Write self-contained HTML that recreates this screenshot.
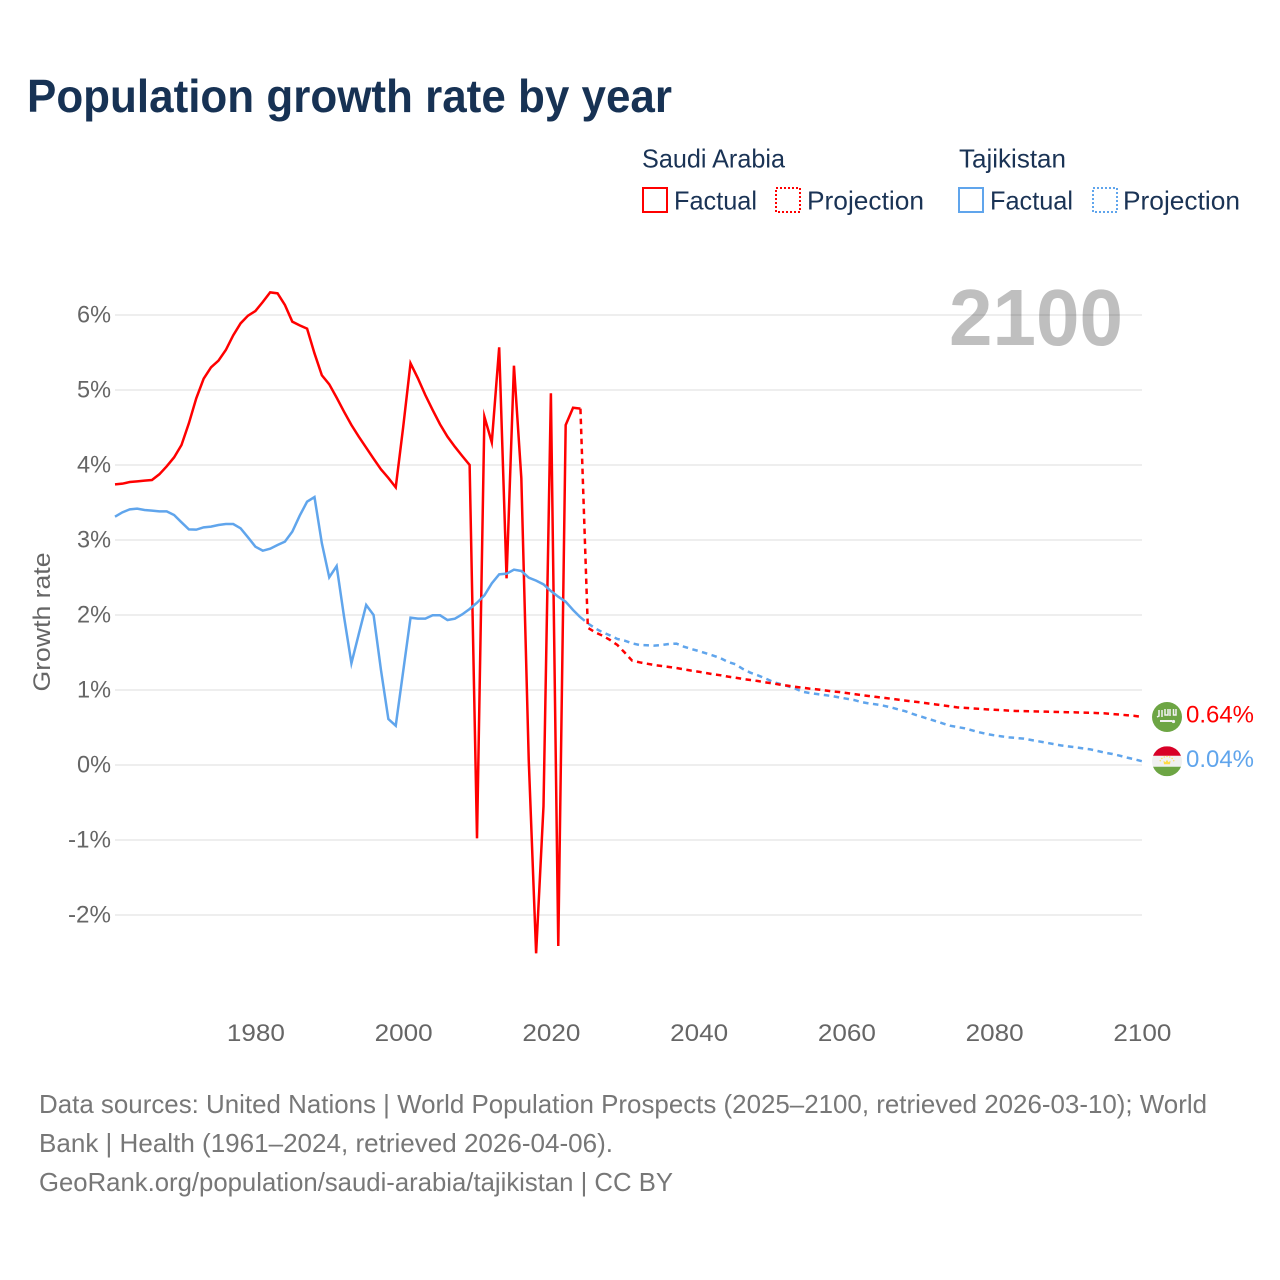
<!DOCTYPE html>
<html lang="en">
<head>
<meta charset="utf-8">
<title>Population growth rate by year</title>
<style>
html,body{margin:0;padding:0;background:#fff;}
svg{display:block;font-family:"Liberation Sans",sans-serif;}
</style>
</head>
<body>
<svg id="chart" xmlns="http://www.w3.org/2000/svg" width="1280" height="1280" viewBox="0 0 1280 1280">
  <rect x="0" y="0" width="1280" height="1280" fill="#fff"/>
  <text x="27" y="112" font-size="46" font-weight="700" fill="#173254" textLength="645" lengthAdjust="spacingAndGlyphs">Population growth rate by year</text>

  <g font-size="26" fill="#1a3355">
    <text x="642" y="167.5" textLength="143" lengthAdjust="spacingAndGlyphs">Saudi Arabia</text>
    <text x="959" y="167.5" textLength="107" lengthAdjust="spacingAndGlyphs">Tajikistan</text>
    <rect x="643" y="188" width="24" height="24" fill="none" stroke="#ff0000" stroke-width="2"/>
    <text x="674" y="209.5" textLength="83" lengthAdjust="spacingAndGlyphs">Factual</text>
    <rect x="776" y="188" width="24" height="24" fill="none" stroke="#ff0000" stroke-width="2" stroke-dasharray="2 2"/>
    <text x="807" y="209.5" textLength="117" lengthAdjust="spacingAndGlyphs">Projection</text>
    <rect x="959" y="188" width="24" height="24" fill="none" stroke="#60a5ec" stroke-width="2"/>
    <text x="990" y="209.5" textLength="83" lengthAdjust="spacingAndGlyphs">Factual</text>
    <rect x="1093" y="188" width="24" height="24" fill="none" stroke="#60a5ec" stroke-width="2" stroke-dasharray="2 2"/>
    <text x="1123" y="209.5" textLength="117" lengthAdjust="spacingAndGlyphs">Projection</text>
  </g>

  <g id="grid"></g>
  <text x="949" y="345" font-size="80" font-weight="700" fill="#000000" fill-opacity="0.25" textLength="174" lengthAdjust="spacingAndGlyphs">2100</text>
  <g id="yTicks" font-size="24" fill="#666666"></g>
  <g id="xTicks" font-size="24" fill="#666666"></g>
  <text transform="translate(50,622) rotate(-90)" text-anchor="middle" font-size="24" fill="#666666" textLength="139" lengthAdjust="spacingAndGlyphs">Growth rate</text>
  <g id="series"></g>
  <g id="ends"></g>

  <g font-size="26" fill="#777777">
    <text x="39" y="1113" textLength="1168" lengthAdjust="spacingAndGlyphs">Data sources: United Nations | World Population Prospects (2025–2100, retrieved 2026-03-10); World</text>
    <text x="39" y="1152" textLength="574" lengthAdjust="spacingAndGlyphs">Bank | Health (1961–2024, retrieved 2026-04-06).</text>
    <text x="39" y="1191" textLength="634" lengthAdjust="spacingAndGlyphs">GeoRank.org/population/saudi-arabia/tajikistan | CC BY</text>
  </g>
</svg>
<script>
const yTickValues = [-2, -1, 0, 1, 2, 3, 4, 5, 6];
const yTickLabels = ['-2%', '-1%', '0%', '1%', '2%', '3%', '4%', '5%', '6%'];
const xTickValues = [1980, 2000, 2020, 2040, 2060, 2080, 2100];
const xTickLabels = ['1980', '2000', '2020', '2040', '2060', '2080', '2100'];
const factualStartYear = 1961;
const projectionStartYear = 2024;
const saudiFactual = [3.742,3.751,3.773,3.782,3.791,3.80,3.876,3.982,4.102,4.267,4.556,4.889,5.151,5.302,5.391,5.533,5.729,5.889,5.991,6.053,6.173,6.302,6.289,6.133,5.911,5.862,5.818,5.489,5.196,5.076,4.898,4.711,4.533,4.378,4.231,4.084,3.942,3.827,3.702,4.5,5.356,5.156,4.933,4.733,4.542,4.378,4.244,4.12,4.0,-0.978,4.644,4.302,5.569,2.489,5.324,3.822,0.07,-2.511,-0.55,4.956,-2.413,4.533,4.764,4.751];
const saudiProjection = [4.751,1.83,1.769,1.724,1.667,1.6,1.498,1.391,1.369,1.351,1.333,1.32,1.307,1.293,1.276,1.258,1.244,1.227,1.209,1.196,1.178,1.164,1.147,1.133,1.12,1.102,1.089,1.071,1.058,1.044,1.031,1.018,1.009,0.996,0.982,0.973,0.96,0.947,0.933,0.92,0.908,0.897,0.884,0.871,0.859,0.847,0.835,0.822,0.809,0.796,0.782,0.769,0.762,0.755,0.749,0.742,0.736,0.731,0.725,0.72,0.718,0.716,0.713,0.711,0.709,0.706,0.704,0.702,0.699,0.696,0.692,0.689,0.68,0.672,0.663,0.655,0.64];
const tajikFactual = [3.311,3.369,3.409,3.418,3.4,3.391,3.382,3.382,3.333,3.236,3.142,3.138,3.169,3.178,3.2,3.213,3.213,3.156,3.036,2.911,2.858,2.884,2.933,2.978,3.111,3.324,3.511,3.573,2.956,2.502,2.653,1.978,1.356,1.747,2.133,2.0,1.267,0.613,0.524,1.244,1.964,1.951,1.951,1.996,1.996,1.933,1.951,2.009,2.08,2.164,2.262,2.422,2.542,2.551,2.604,2.587,2.498,2.458,2.409,2.32,2.244,2.178,2.067,1.969];
const tajikProjection = [1.969,1.889,1.822,1.769,1.729,1.68,1.658,1.622,1.6,1.596,1.591,1.6,1.613,1.618,1.578,1.547,1.52,1.489,1.458,1.422,1.373,1.342,1.28,1.231,1.196,1.156,1.111,1.08,1.053,1.022,0.978,0.96,0.947,0.933,0.92,0.902,0.884,0.867,0.84,0.822,0.809,0.791,0.769,0.742,0.716,0.68,0.649,0.618,0.587,0.556,0.524,0.507,0.489,0.462,0.436,0.413,0.396,0.382,0.369,0.36,0.351,0.333,0.316,0.298,0.28,0.262,0.249,0.236,0.222,0.209,0.187,0.164,0.147,0.124,0.098,0.076,0.05];
const endLabels = ['0.64%', '0.04%'];

const NS = 'http://www.w3.org/2000/svg';
const RED = '#ff0000';
const BLUE = '#60a5ec';
const PLOT_LEFT = 115;
const PLOT_RIGHT = 1142;

function xScale(year) {
  return 115 + (year - 1961) * 7.388;
}
function yScale(value) {
  return 765 - value * 75;
}
function make(tag, attrs, parent) {
  const el = document.createElementNS(NS, tag);
  for (const k in attrs) el.setAttribute(k, attrs[k]);
  parent.appendChild(el);
  return el;
}
function pathFrom(startYear, values) {
  return values.map(function (v, i) {
    return (i ? 'L' : 'M') + xScale(startYear + i).toFixed(2) + ' ' + yScale(v).toFixed(2);
  }).join(' ');
}

const gridGroup = document.getElementById('grid');
const yTickGroup = document.getElementById('yTicks');
const xTickGroup = document.getElementById('xTicks');
const seriesGroup = document.getElementById('series');
const endGroup = document.getElementById('ends');

yTickValues.forEach(function (v, i) {
  const line = make('line', {x1: PLOT_LEFT, x2: PLOT_RIGHT, y1: yScale(v), y2: yScale(v), stroke: '#eeeeee', 'stroke-width': 2}, gridGroup);
  
  
  const label = make('text', {x: 111, y: yScale(v) + 7.5, 'text-anchor': 'end', textLength: 34 + (yTickLabels[i].length - 2) * 9, lengthAdjust: 'spacingAndGlyphs'}, yTickGroup);
  
  
  label.textContent = yTickLabels[i];
});

xTickValues.forEach(function (yr, i) {
  const label = make('text', {x: xScale(yr) + 0.5, y: 1041, 'text-anchor': 'middle', textLength: 58, lengthAdjust: 'spacingAndGlyphs'}, xTickGroup);
  
  
  label.textContent = xTickLabels[i];
});

function drawLine(startYear, values, color, dashed, name) {
  const attrs = {d: pathFrom(startYear, values), fill: 'none', stroke: color, 'stroke-width': 2.5, 'stroke-linejoin': 'miter', 'stroke-miterlimit': 10};
  if (dashed) attrs['stroke-dasharray'] = '5.5 4.5';
  const path = make('path', attrs, seriesGroup);
  
  
}
drawLine(factualStartYear, saudiFactual, RED, false, 'saudi-arabia-factual-line');
drawLine(factualStartYear, tajikFactual, BLUE, false, 'tajikistan-factual-line');
drawLine(projectionStartYear, tajikProjection, BLUE, true, 'tajikistan-projection-line');
drawLine(projectionStartYear, saudiProjection, RED, true, 'saudi-arabia-projection-line');

function drawSaudiFlag(g) {
  make('circle', {cx: 0, cy: 0, r: 15, fill: '#6da544'}, g);
  make('path', {d: 'M-8 -7v6l-2 1M-5 -7v7M-2 -8v6h3v-6M3 -8v7M6.5 -8v6h2.5v-6', fill: 'none', stroke: '#f2f2f2', 'stroke-width': 1.5}, g);
  make('path', {d: 'M-7 4H5', fill: 'none', stroke: '#f2f2f2', 'stroke-width': 2}, g);
  make('circle', {cx: 6.5, cy: 4.5, r: 1.6, fill: '#f2f2f2'}, g);
}
function drawTajikFlag(g) {
  const clip = make('clipPath', {id: 'tjClip'}, g);
  make('circle', {cx: 0, cy: 0, r: 15}, clip);
  const inner = make('g', {'clip-path': 'url(#tjClip)'}, g);
  make('rect', {x: -15, y: -15, width: 30, height: 30, fill: '#f0f0f0'}, inner);
  make('rect', {x: -15, y: -15, width: 30, height: 9.5, fill: '#d80027'}, inner);
  make('rect', {x: -15, y: 5.5, width: 30, height: 9.5, fill: '#6da544'}, inner);
  make('path', {d: 'M-3 3L-3.5 -0.5L-1.5 1L0 -1.5L1.5 1L3.5 -0.5L3 3Z', fill: '#ffda44'}, inner);
  make('path', {d: 'M-7 0A7.5 7.5 0 0 1 7 0', fill: 'none', stroke: '#ffda44', 'stroke-width': 1.2, 'stroke-dasharray': '1.2 1.6'}, inner);
}

function drawEnd(value, labelText, color, flag, name) {
  const y = yScale(value);
  const g = make('g', {transform: 'translate(1167,' + y.toFixed(2) + ')'}, endGroup);
  
  
  flag(g);
  const label = make('text', {x: 1186, y: y + 5.5, 'font-size': 24, fill: color, textLength: 68, lengthAdjust: 'spacingAndGlyphs'}, endGroup);
  
  
  label.textContent = labelText;
}
drawEnd(saudiProjection[saudiProjection.length - 1], endLabels[0], RED, drawSaudiFlag, 'saudi-arabia');
drawEnd(tajikProjection[tajikProjection.length - 1], endLabels[1], BLUE, drawTajikFlag, 'tajikistan');
</script>
</body>
</html>
